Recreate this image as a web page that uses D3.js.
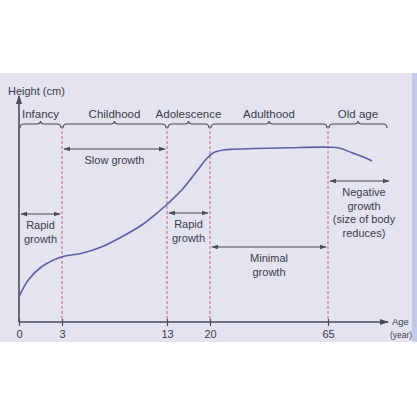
<!DOCTYPE html>
<html><head><meta charset="utf-8">
<script src="https://cdn.jsdelivr.net/npm/d3@7"></script>
<style>body{margin:0;background:#fff}svg{display:block}text{font-family:"Liberation Sans",Arial,sans-serif;fill:#3b3c4c}</style>
</head><body><svg id="c" width="417" height="417"></svg>
<script>
// ---- data ----
const ages    = [0, 0.65, 1.58, 3, 4.9, 6.8, 8.7, 10.6, 12.2, 13.2, 15.4, 17.6, 19.5, 21.3, 25.1, 28.9, 50, 65, 68, 71, 74, 76];
const heights = [51, 64.4, 75, 83, 85.8, 91, 99, 108.4, 119, 125.8, 136.4, 149.8, 161.8, 166.2, 168.4, 169, 170.2, 170.6, 169.8, 166.2, 162.6, 159.6];
const tickAges = [0, 3, 13, 20, 65];
const stages = ["Infancy", "Childhood", "Adolescence", "Adulthood", "Old age"];
const stageBounds = [0, 3, 13, 20, 65, 80];
const notes = [
  {from: 3,  to: 13, lines: ["Slow growth"]},
  {from: 0,  to: 3,  lines: ["Rapid", "growth"]},
  {from: 13, to: 20, lines: ["Rapid", "growth"]},
  {from: 20, to: 65, lines: ["Minimal", "growth"]},
  {from: 65, to: 80, lines: ["Negative", "growth", "(size of body", "reduces)"]}
];
// ---- layout ----
const noteY = [149, 214, 213, 247, 181];
const svg = d3.select("#c");
const x = d3.scaleLinear().domain(stageBounds).range([19, 62, 167, 210, 328, 388]);
const y = d3.scaleLinear().domain([50, 170]).range([298, 148]);
const axisY = 322, topY = 96;
const ink = "#4a4b58";

svg.append("rect").attr("x",0).attr("y",73).attr("width",417).attr("height",269).attr("fill","#e3e4ef");
svg.append("rect").attr("x",412).attr("y",73).attr("width",5).attr("height",269).attr("fill","#c3c9e6");

const defs = svg.append("defs");
function marker(id, size){
  defs.append("marker").attr("id",id).attr("viewBox","0 0 10 10").attr("refX",9).attr("refY",5)
    .attr("markerWidth",size).attr("markerHeight",size).attr("orient","auto-start-reverse").attr("markerUnits","userSpaceOnUse")
    .append("path").attr("d","M0,1.5L10,5L0,8.5Z").attr("fill",ink);
}
marker("ah", 7); marker("axh", 9);

// dashed stage lines
svg.selectAll("line.dash").data(stageBounds.slice(1,5)).join("line")
  .attr("x1",d=>x(d)).attr("x2",d=>x(d)).attr("y1",126).attr("y2",axisY)
  .attr("stroke","#d0607a").attr("stroke-width",1).attr("stroke-dasharray","3,2");

// axes
svg.append("line").attr("x1",x(0)).attr("x2",x(0)).attr("y1",axisY).attr("y2",topY)
  .attr("stroke",ink).attr("stroke-width",1.6).attr("marker-end","url(#axh)");
const xa = svg.append("g").attr("transform",`translate(0,${axisY})`)
  .call(d3.axisBottom(x).tickValues(tickAges).tickSize(4).tickSizeOuter(0).tickPadding(4).tickFormat(d3.format("d")));
xa.select(".domain").remove();
xa.selectAll("line").attr("stroke",ink).attr("stroke-width",1.2).attr("y1",-3);
xa.selectAll("text").attr("font-size",11).style("fill","#3b3c4c");
svg.append("line").attr("x1",x(0)).attr("x2",x(80)).attr("y1",axisY).attr("y2",axisY)
  .attr("stroke",ink).attr("stroke-width",1.6).attr("marker-end","url(#axh)");
svg.append("text").attr("x",8).attr("y",95).attr("font-size",11).text("Height (cm)");
svg.append("text").attr("x",392).attr("y",325).attr("font-size",9.5).text("Age");
svg.append("text").attr("x",390).attr("y",338).attr("font-size",8.5).text("(year)");

// braces
const braceY = 124;
stageBounds.slice(0,5).forEach((a,i)=>{
  const x0 = x(a)+1, x1 = x(stageBounds[i+1])-1, m = (x0+x1)/2;
  const p = d3.path();
  p.moveTo(x0, braceY+4); p.quadraticCurveTo(x0, braceY, x0+4, braceY);
  p.lineTo(m-4, braceY); p.quadraticCurveTo(m, braceY, m, braceY-3);
  p.quadraticCurveTo(m, braceY, m+4, braceY);
  p.lineTo(x1-4, braceY); p.quadraticCurveTo(x1, braceY, x1, braceY+4);
  svg.append("path").attr("d",p.toString()).attr("fill","none").attr("stroke",ink).attr("stroke-width",1.1);
  svg.append("text").attr("x",m).attr("y",braceY-6).attr("text-anchor","middle").attr("font-size",11.5).text(stages[i]);
});

// curve
svg.append("path").datum(ages.map((a,i)=>[a,heights[i]]))
  .attr("d", d3.line().x(d=>x(d[0])).y(d=>y(d[1])).curve(d3.curveCatmullRom.alpha(0.5)))
  .attr("fill","none").attr("stroke","#5b60a8").attr("stroke-width",1.6);

// annotations
notes.forEach((n,i)=>{
  const yy = noteY[i];
  const x0 = x(n.from)+2, x1 = (n.to===80 ? x(80)+1 : x(n.to)-2);
  svg.append("line").attr("x1",x0).attr("x2",x1).attr("y1",yy).attr("y2",yy)
    .attr("stroke",ink).attr("stroke-width",1.1).attr("marker-start","url(#ah)").attr("marker-end","url(#ah)");
  const cx = n.to===80 ? 364 : (x0+x1)/2;
  n.lines.forEach((l,j)=>{
    svg.append("text").attr("x",cx).attr("y",yy+15+j*13.5).attr("text-anchor","middle")
      .attr("font-size",11).text(l);
  });
});
</script></body></html>
